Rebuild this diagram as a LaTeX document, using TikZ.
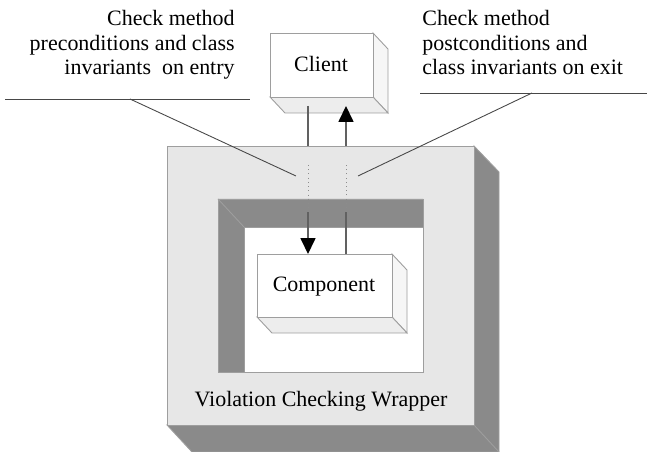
\documentclass[tikz,border=0pt]{standalone}
\usepackage{fontspec}
\newfontfamily\wrapfont{Liberation Serif}
\usetikzlibrary{arrows.meta}

\definecolor{wallgray}{gray}{0.54}
\definecolor{facegray}{gray}{0.905}
\definecolor{edgegray}{gray}{0.62}
\definecolor{sidegray}{gray}{0.93}

\begin{document}
\begin{tikzpicture}[x=0.02cm, y=-0.02cm,
  txt/.style={font=\wrapfont\fontsize{12.5}{13.9}\selectfont, inner sep=0},
  flow/.style={color=black!62, line width=0.75pt},
  tip/.style={-{Triangle[length=9pt,width=8.5pt,color=black]}},
  callout/.style={color=black!72, line width=0.5pt},
  box/.style={color=edgegray, line width=0.5pt}]
\useasboundingbox (0,0) rectangle (647,452);
% wrapper with its hole
\filldraw[box, fill=wallgray] (474,146) -- (499,172) -- (499,452) -- (192,452) -- (167,425) -- (474,425) -- cycle;
\draw[box] (474,425) -- (499,452);
\filldraw[box, fill=facegray] (167,146) rectangle (474,425);
\filldraw[box, fill=white] (218,199) rectangle (423,372);
\filldraw[box, fill=wallgray] (218,199) -- (423,199) -- (423,227) -- (244,227) -- (244,372) -- (218,372) -- cycle;
\draw[box] (218,199) -- (244,227);
\node[txt, anchor=base] (wrapper) at (321,407) {Violation Checking Wrapper};
% client
\filldraw[box, fill=sidegray!50!white] (373,33) -- (388,49) -- (388,113) -- (373,97) -- cycle;
\filldraw[box, fill=sidegray] (270,97) -- (373,97) -- (388,113) -- (285,113) -- cycle;
\filldraw[box, fill=white] (270,33) rectangle (373,97);
\node[txt, anchor=base] (client) at (321,72) {Client};
% component
\filldraw[box, fill=sidegray!50!white] (392,254) -- (407,270) -- (407,333) -- (392,317) -- cycle;
\filldraw[box, fill=sidegray] (257,317) -- (392,317) -- (407,333) -- (272,333) -- cycle;
\filldraw[box, fill=white] (257,254) rectangle (392,317);
\node[txt, anchor=base] (component) at (324,292) {Component};
% call in and return out
\foreach \x/\n in {308/call,346/ret}{
  \coordinate (\n-c) at (\x,106);
  \coordinate (\n-w) at (\x,146);
  \coordinate (\n-d) at (\x,165);
  \coordinate (\n-e) at (\x,212);
  \coordinate (\n-k) at (\x,254);
}
\draw[flow] (call-c) -- (call-w);
\draw[dotted, color=black!45] (call-d) -- (call-e);
\draw[flow, tip] (call-e) -- (call-k);
\draw[flow] (ret-k) -- (ret-e);
\draw[dotted, color=black!45] (ret-e) -- (ret-d);
\draw[flow, tip] (ret-w) -- (ret-c);
% callouts
\node[txt, anchor=north east, align=right] (pre) at (235,10) {Check method\\preconditions and class\\invariants\ \ on entry};
\node[txt, anchor=north west, align=left] (post) at (422,10) {Check method\\postconditions and\\class invariants on exit};
\coordinate (pre-a) at (5,99);
\coordinate (pre-b) at (250,99);
\coordinate (pre-k) at (130,99);
\coordinate (pre-t) at (296,176);
\coordinate (post-a) at (420,93);
\coordinate (post-b) at (647,93);
\coordinate (post-k) at (532,93);
\coordinate (post-t) at (358,176);
\draw[callout] (pre-a) -- (pre-b);
\draw[callout] (pre-k) -- (pre-t);
\draw[callout] (post-a) -- (post-b);
\draw[callout] (post-k) -- (post-t);
\end{tikzpicture}
\end{document}
